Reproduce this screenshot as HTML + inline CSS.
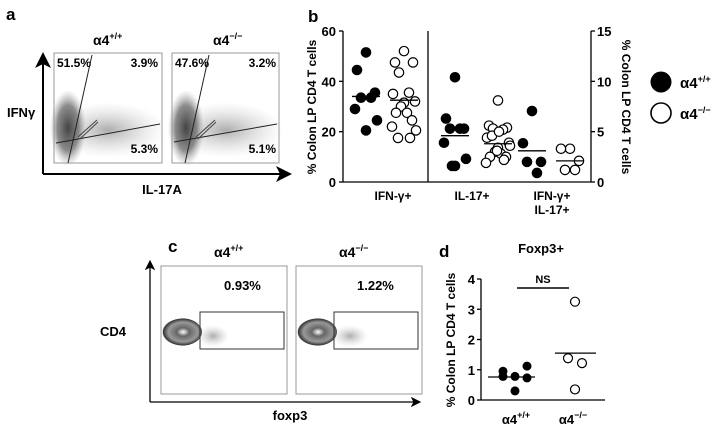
<!DOCTYPE html>
<html><head><meta charset="utf-8"><style>
body{margin:0;background:#fff;}
svg{display:block;font-family:"Liberation Sans",Arial,sans-serif;font-weight:bold;}
</style></head><body>
<svg id="fig" width="722" height="431" viewBox="0 0 722 431">
<defs>
<radialGradient id="dense" cx="50%" cy="50%" r="50%"><stop offset="0" stop-color="#444"/><stop offset="0.6" stop-color="#777" stop-opacity="0.85"/><stop offset="1" stop-color="#aaa" stop-opacity="0"/></radialGradient>
<radialGradient id="light" cx="50%" cy="50%" r="50%"><stop offset="0" stop-color="#999" stop-opacity="0.8"/><stop offset="1" stop-color="#ccc" stop-opacity="0"/></radialGradient>
<radialGradient id="contour" cx="55%" cy="50%" r="50%"><stop offset="0" stop-color="#fff"/><stop offset="0.3" stop-color="#666"/><stop offset="0.7" stop-color="#999"/><stop offset="0.95" stop-color="#333"/><stop offset="1" stop-color="#fff" stop-opacity="0"/></radialGradient>
<marker id="arr" markerWidth="8" markerHeight="8" refX="4" refY="4" orient="auto"><path d="M0,0 L8,4 L0,8 L2,4 z" fill="#000"/></marker>
</defs>

<!-- Panel a -->
<g>
<text x="6" y="20" font-size="17">a</text>
<text x="93" y="45" font-size="14">α4<tspan dy="-6" font-size="9">+/+</tspan></text>
<text x="213" y="45" font-size="14">α4<tspan dy="-6" font-size="9">−/−</tspan></text>
<line x1="43" y1="174" x2="43" y2="60" stroke="#000" stroke-width="2" marker-end="url(#arr)"/>
<line x1="43" y1="174" x2="284" y2="174" stroke="#000" stroke-width="2" marker-end="url(#arr)"/>
<text x="7" y="117" font-size="13">IFNγ</text>
<text x="162" y="194" font-size="13" text-anchor="middle">IL-17A</text>
<g>
<rect x="54" y="53" width="108" height="110" fill="#fff" stroke="#999"/>
<ellipse cx="108" cy="130" rx="58" ry="28" fill="url(#light)"/>
<ellipse cx="68" cy="128" rx="18" ry="38" fill="url(#dense)"/>
<line x1="92" y1="55" x2="68" y2="163" stroke="#222"/>
<line x1="56" y1="143" x2="160" y2="124" stroke="#222"/>
<line x1="78" y1="137" x2="97" y2="120" stroke="#444"/><line x1="80" y1="139" x2="98" y2="122" stroke="#444"/>
<text x="57" y="67" font-size="12">51.5%</text><text x="158" y="67" font-size="12" text-anchor="end">3.9%</text><text x="158" y="153" font-size="12" text-anchor="end">5.3%</text>
</g>
<g>
<rect x="172" y="53" width="107" height="110" fill="#fff" stroke="#999"/>
<ellipse cx="226" cy="130" rx="58" ry="28" fill="url(#light)"/>
<ellipse cx="186" cy="128" rx="18" ry="38" fill="url(#dense)"/>
<line x1="209" y1="55" x2="185" y2="163" stroke="#222"/>
<line x1="174" y1="142" x2="277" y2="124" stroke="#222"/>
<line x1="196" y1="137" x2="215" y2="120" stroke="#444"/><line x1="198" y1="139" x2="216" y2="122" stroke="#444"/>
<text x="175" y="67" font-size="12">47.6%</text><text x="276" y="67" font-size="12" text-anchor="end">3.2%</text><text x="276" y="153" font-size="12" text-anchor="end">5.1%</text>
</g>
</g>

<!-- Panel c -->
<g>
<text x="168" y="252" font-size="17">c</text>
<text x="214" y="257" font-size="14">α4<tspan dy="-6" font-size="9">+/+</tspan></text>
<text x="339" y="257" font-size="14">α4<tspan dy="-6" font-size="9">−/−</tspan></text>
<line x1="150" y1="402" x2="150" y2="265" stroke="#000" stroke-width="1.3" marker-end="url(#arr)"/>
<line x1="150" y1="402" x2="416" y2="402" stroke="#000" stroke-width="1.3" marker-end="url(#arr)"/>
<text x="100" y="336" font-size="13">CD4</text>
<text x="290" y="420" font-size="13" text-anchor="middle">foxp3</text>
<g>
<rect x="161" y="266" width="126" height="128" fill="#fff" stroke="#999"/>
<ellipse cx="213" cy="336" rx="16" ry="11" fill="url(#light)"/>
<ellipse cx="181" cy="332" rx="21" ry="14" fill="url(#contour)"/>
<rect x="200" y="312" width="84" height="37" fill="none" stroke="#333"/>
<text x="224" y="290" font-size="13">0.93%</text>
</g>
<g>
<rect x="296" y="266" width="126" height="128" fill="#fff" stroke="#999"/>
<ellipse cx="350" cy="336" rx="18" ry="11" fill="url(#light)"/>
<ellipse cx="316" cy="332" rx="21" ry="14" fill="url(#contour)"/>
<rect x="334" y="312" width="84" height="37" fill="none" stroke="#333"/>
<text x="357" y="290" font-size="13">1.22%</text>
</g>
</g>

<!-- Panel b -->
<g id="pb">
<text x="308" y="22" font-size="17">b</text>
<text transform="translate(316,107) rotate(-90)" font-size="12" text-anchor="middle">% Colon LP CD4 T cells</text>
<text transform="translate(622,107) rotate(90)" font-size="12" text-anchor="middle">% Colon LP CD4 T cells</text>
<line x1="343" y1="182" x2="591" y2="182" stroke="#000" stroke-width="1.3"/>
<line x1="343" y1="31" x2="343" y2="182" stroke="#000" stroke-width="1.3"/>
<line x1="591" y1="31" x2="591" y2="182" stroke="#000" stroke-width="1.3"/>
<line x1="428" y1="31" x2="428" y2="182" stroke="#000" stroke-width="1.3"/>
<text x="393" y="200" font-size="12" text-anchor="middle">IFN-γ+</text>
<text x="472" y="200" font-size="12" text-anchor="middle">IL-17+</text>
<text x="552" y="200" font-size="12" text-anchor="middle">IFN-γ+</text>
<text x="552" y="214" font-size="12" text-anchor="middle">IL-17+</text>
<g>
<circle cx="661" cy="82" r="10.5" fill="#000"/>
<text x="680" y="88" font-size="15">α4<tspan dy="-6" font-size="9">+/+</tspan></text>
<circle cx="661" cy="113" r="10" fill="#fff" stroke="#000" stroke-width="1.6"/>
<text x="680" y="119" font-size="15">α4<tspan dy="-6" font-size="9">−/−</tspan></text>
</g>
</g>

<!-- Panel d -->
<g id="pd">
<text x="439" y="257" font-size="17">d</text>
<text x="541" y="253" font-size="13" text-anchor="middle">Foxp3+</text>
<text transform="translate(455,340) rotate(-90)" font-size="12" text-anchor="middle">% Colon LP CD4 T cells</text>
<line x1="481" y1="279" x2="481" y2="400" stroke="#000" stroke-width="1.3"/>
<line x1="481" y1="400" x2="605" y2="400" stroke="#000" stroke-width="1.3"/>
<line x1="517" y1="288" x2="569" y2="288" stroke="#000" stroke-width="1.5"/>
<text x="543" y="283" font-size="11" text-anchor="middle">NS</text>
<text x="516" y="424" font-size="13" text-anchor="middle">α4<tspan dy="-6" font-size="9">+/+</tspan></text>
<text x="573" y="424" font-size="13" text-anchor="middle">α4<tspan dy="-6" font-size="9">−/−</tspan></text>
</g>
</svg>
<script>
// Panel b data
const bLeftTicks = [0, 20, 40, 60];
const bRightTicks = [0, 5, 10, 15];
const ifngWT = [51.5, 44.5, 35.5, 33.5, 33.5, 29, 24.5, 20.5];
const ifngKO = [52, 47.5, 47.5, 43.5, 35.5, 35, 32, 31.5, 30, 27.5, 27.5, 24.5, 22, 20.5, 17.5, 17.5];
const il17WT = [10.4, 6.3, 5.3, 5.3, 5.3, 3.9, 2.3, 1.6, 1.6];
const il17KO = [8.1, 5.6, 5.4, 5.3, 5.2, 4.4, 3.9, 3.4, 3.0, 2.8, 2.5, 2.5, 1.9, 3.6, 4.6, 2.2, 5.0, 3.1];
const dblWT = [7.05, 3.85, 2.0, 2.0, 0.9];
const dblKO = [3.3, 3.3, 2.1, 1.2, 1.2];
const ifngWTMean = 34, ifngKOMean = 32.5, il17WTMean = 4.6, il17KOMean = 3.8, dblWTMean = 3.1, dblKOMean = 2.1;
// Panel d data
const dTicks = [0, 1, 2, 3, 4];
const foxWT = [0.95, 0.78, 0.78, 1.12, 0.73, 0.3];
const foxKO = [3.25, 1.38, 1.22, 0.35];
const foxWTMean = 0.76, foxKOMean = 1.55;

const NS = "http://www.w3.org/2000/svg";
function mk(parent, tag, attrs){const e=document.createElementNS(NS,tag);for(const k in attrs)e.setAttribute(k,attrs[k]);parent.appendChild(e);return e;}
const yL = v => 182 - v/60*151;
const yR = v => 182 - v/15*151;
const yD = v => 400 - v/4*121;
const jit = [0,-9,9,-5,5,-11,11,0,-3,3,-8,8,-12,12,-6,6,1,-1];

const pb = document.getElementById('pb');
bLeftTicks.forEach(t=>{
  const l=mk(pb,'line',{x1:339,x2:343,y1:yL(t),y2:yL(t),stroke:'#000','stroke-width':1.3});
  
  
  const tx=mk(pb,'text',{x:336,y:yL(t)+5,'font-size':13,'text-anchor':'end'});tx.textContent=t;
  
  
});
bRightTicks.forEach(t=>{
  const l=mk(pb,'line',{x1:591,x2:595,y1:yR(t),y2:yR(t),stroke:'#000','stroke-width':1.3});
  
  
  const tx=mk(pb,'text',{x:597,y:yR(t)+5,'font-size':13});tx.textContent=t;
  
  
});
function group(parent, vals, cx, yf, filled, mean, name){
  vals.forEach((v,i)=>{
    const c=mk(parent,'circle',{cx:cx+jit[i%jit.length],cy:yf(v),r:4.7,fill:filled?'#000':'#fff',stroke:'#000','stroke-width':1.2});
    
    
  });
  const m=mk(parent,'line',{x1:cx-14,x2:cx+14,y1:yf(mean),y2:yf(mean),stroke:'#000','stroke-width':1.3});
  
  
}
group(pb, ifngWT, 366, yL, true, ifngWTMean, 'ifng-wt');
group(pb, ifngKO, 404, yL, false, ifngKOMean, 'ifng-ko');
group(pb, il17WT, 455, yR, true, il17WTMean, 'il17-wt');
group(pb, il17KO, 498, yR, false, il17KOMean, 'il17-ko');
group(pb, dblWT, 532, yR, true, dblWTMean, 'double-wt');
group(pb, dblKO, 570, yR, false, dblKOMean, 'double-ko');

const pd = document.getElementById('pd');
dTicks.forEach(t=>{
  const l=mk(pd,'line',{x1:477,x2:481,y1:yD(t),y2:yD(t),stroke:'#000','stroke-width':1.3});
  
  
  const tx=mk(pd,'text',{x:475,y:yD(t)+5,'font-size':13,'text-anchor':'end'});tx.textContent=t;
  
  
});
const jd=[-12,-12,0,12,12,0];
foxWT.forEach((v,i)=>{
  const c=mk(pd,'circle',{cx:515+jd[i],cy:yD(v),r:4.5,fill:'#000'});
  
  
});
const jk=[0,-7,7,0];
foxKO.forEach((v,i)=>{
  const c=mk(pd,'circle',{cx:575+jk[i],cy:yD(v),r:4.5,fill:'#fff',stroke:'#000','stroke-width':1.2});
  
  
});
[[488,535,foxWTMean],[555,596,foxKOMean]].forEach(a=>{
  const m=mk(pd,'line',{x1:a[0],x2:a[1],y1:yD(a[2]),y2:yD(a[2]),stroke:'#000','stroke-width':1.3});
  
  
});
</script>
</body></html>
